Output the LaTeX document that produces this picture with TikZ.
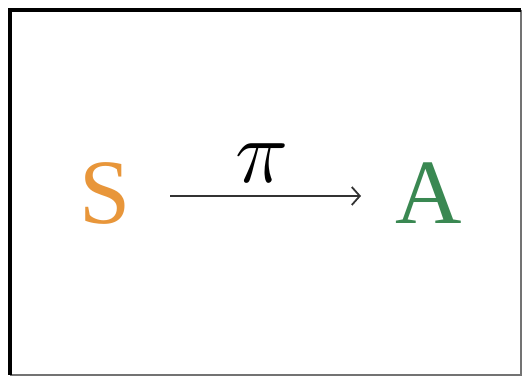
\RequirePackage{fix-cm}
\documentclass[tikz,border=0pt]{standalone}
\usepackage{fontspec}
\setmainfont{Liberation Serif}
\usetikzlibrary{arrows.meta}
\definecolor{sorange}{RGB}{232,150,58}
\definecolor{agreen}{RGB}{58,136,82}
\begin{document}
\begin{tikzpicture}[x=1pt,y=1pt,
  letter/.style={inner sep=0pt, font=\fontsize{92}{92}\selectfont},
  conn/.style={draw=black!80, line width=2pt, -{Straight Barb[length=8pt,width=18pt,line width=1.8pt]}}]
\useasboundingbox (0,0) rectangle (523,377);
\fill[white] (0,0) rectangle (523,377);
% frame
\draw[black!55, line width=2pt] (10,2) -- (521,2) -- (521,367);
\draw[black, line width=3.5pt] (10,2) -- (10,367) -- (521,367);
\node[letter, text=sorange, anchor=base] (s) at (105,153) {S};
\node[letter, text=agreen, anchor=base] (a) at (429,153) {A};
\coordinate (p1) at (170,181);
\coordinate (p2) at (361,181);
\draw[conn] (p1) -- (p2);
\node[inner sep=0pt, anchor=base, font=\fontsize{90}{90}\selectfont] (plabel) at (262,194) {\(\pi\)};
\end{tikzpicture}
\end{document}
